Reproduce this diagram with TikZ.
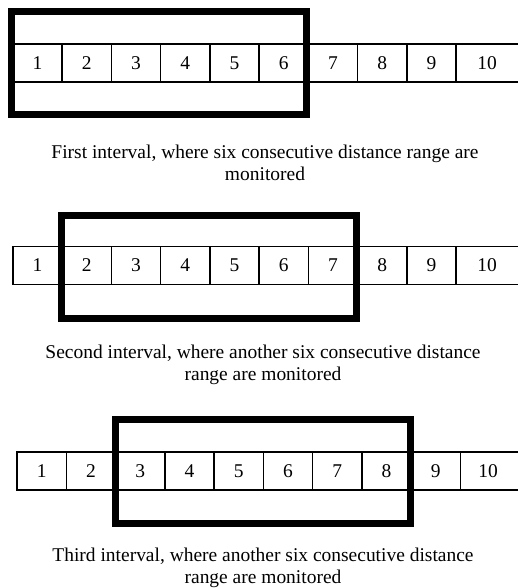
\documentclass[tikz,border=0pt]{standalone}
\usepackage{fontspec}
\setmainfont{Liberation Serif}
\begin{document}
\begin{tikzpicture}[x=0.75pt,y=-0.75pt,
  cell/.style={draw, line width=1.2pt, minimum width=49.25*0.75pt, minimum height=38*0.75pt, inner sep=0pt, anchor=north west, font=\fontsize{14.6}{16.5}\selectfont},
  lastcell/.style={cell, minimum width=66*0.75pt},
  frame/.style={draw, line width=5.25pt},
  caption/.style={align=center, anchor=north, inner sep=0pt, font=\fontsize{14.6}{16.5}\selectfont}]
\useasboundingbox (0,0) rectangle (517,588);
% Row 1
\foreach \i in {1,...,9} {\node[cell] (r1c\i) at ({12+49.25*(\i-1)},43) {\i};}
\node[lastcell] (r1c10) at ({12+49.25*9},43) {\hspace*{-3pt}10};
% Row 2
\foreach \i in {1,...,9} {\node[cell] (r2c\i) at ({12+49.25*(\i-1)},245.5) {\i};}
\node[lastcell] (r2c10) at ({12+49.25*9},245.5) {\hspace*{-3pt}10};
% Row 3
\foreach \i in {1,...,9} {\node[cell] (r3c\i) at ({16.3+49.25*(\i-1)},451) {\i};}
\node[lastcell] (r3c10) at ({16.3+49.25*9},451) {\hspace*{-8pt}10};
% Frames
\draw[frame] (11.5,11.5) rectangle (306.5,114.5);
\draw[frame] (61.5,215.5) rectangle (356,318.5);
\draw[frame] (115.5,419.5) rectangle (410.5,523.5);
% Captions
\node[caption] (cap1) at (265,144.8) {First interval, where six consecutive distance range are\\monitored};
\node[caption] (cap2) at (263,344.8) {Second interval, where another six consecutive distance\\range are monitored};
\node[caption] (cap3) at (263,547.8) {Third interval, where another six consecutive distance\\range are monitored};
\end{tikzpicture}
\end{document}
